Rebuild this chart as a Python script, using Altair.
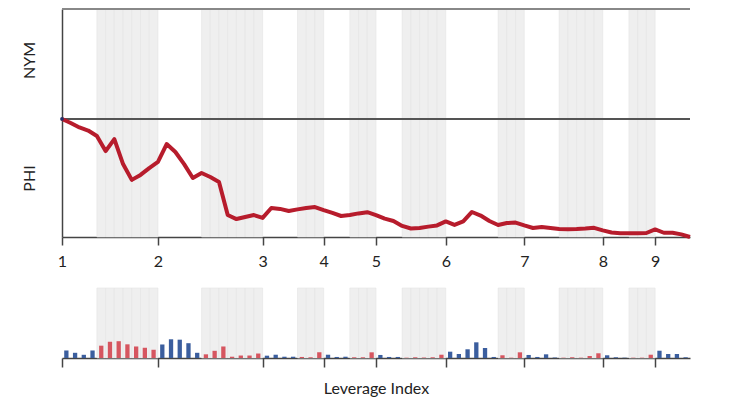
import altair as alt
import pandas as pd

# plays per half-inning (top = NYM batting, bottom = PHI batting)
top_plays = [4, 5, 4, 3, 3, 6, 4, 3, 4]
bottom_plays = [7, 7, 3, 3, 5, 3, 5, 3, 0]
inning_labels = ["1", "2", "3", "4", "5", "6", "7", "8", "9"]

# leverage index of each of the 72 plays
leverage = [
    0.94, 0.65, 0.40, 0.94, 1.54, 2.03, 2.10, 1.71, 1.44, 1.28, 1.03,
    1.69, 2.34, 2.29, 1.85, 0.65, 0.46, 0.90, 1.44, 0.16, 0.31, 0.31, 0.56,
    0.29, 0.41, 0.16, 0.16, 0.13, 0.09, 0.71,
    0.41, 0.13, 0.16, 0.09, 0.09, 0.71,
    0.38, 0.13, 0.13, 0.04, 0.09, 0.06, 0.09, 0.41,
    0.79, 0.50, 1.09, 1.96, 1.25, 0.13, 0.34, 0.04, 0.71,
    0.38, 0.13, 0.46, 0.06, 0.04, 0.09, 0.04, 0.25, 0.59,
    0.34, 0.09, 0.04, 0.04, 0.04, 0.41,
    0.91, 0.50, 0.50, 0.09,
]

# NYM win probability (%) at the start and after each play
nym_win = [
    50.0, 48.3, 46.4, 45.1, 42.8, 36.4, 41.5, 30.9, 24.2, 26.3, 29.2, 31.8,
    39.4, 36.0, 30.9, 25.0, 27.1, 25.4, 23.3, 9.3, 7.6, 8.5, 9.3, 8.1,
    12.3, 11.9, 11.0, 11.7, 12.3, 12.7, 11.4, 10.2, 8.9, 9.3, 10.0, 10.5,
    9.3, 7.8, 6.8, 4.7, 3.6, 3.8, 4.4, 4.9, 6.6, 5.1, 6.6, 10.6,
    9.1, 6.8, 5.1, 5.9, 6.1, 4.9, 3.8, 4.2, 3.8, 3.4, 3.3, 3.4,
    3.6, 3.9, 2.8, 1.9, 1.6, 1.6, 1.6, 1.7, 3.2, 1.8, 1.8, 1.1, 0.0,
]

rows = []
starts = []
p = 0
for inn, (t, b) in enumerate(zip(top_plays, bottom_plays)):
    starts.append(p)
    for _ in range(t):
        rows.append({"play": p, "half": "top"})
        p += 1
    for _ in range(b):
        rows.append({"play": p, "half": "bottom"})
        p += 1
n_plays = p
plays = pd.DataFrame(rows)
plays["start"] = plays["play"]
plays["end"] = plays["play"] + 1
plays["center"] = plays["play"] + 0.5
plays["li"] = leverage
shade = plays[plays["half"] == "bottom"]
wp = pd.DataFrame({"k": list(range(len(nym_win))), "wp": nym_win})

FONT = "Lato"
AX = "#444444"
xs = alt.Scale(domain=[0, n_plays], nice=False, zero=False, padding=0)
label_expr = "[" + ",".join("'%s'" % s for s in inning_labels) + "][indexof([" + \
    ",".join(str(s) for s in starts) + "], datum.value)]"

top_xaxis = alt.Axis(values=starts, labelExpr=label_expr, title=None, grid=False,
                     domainColor=AX, domainWidth=1.5, tickColor=AX, tickWidth=1.5,
                     tickSize=8, labelFontSize=16, labelFont=FONT, labelColor="#222222",
                     labelPadding=8, labelFlush=False, labelOverlap=False)
ys = alt.Scale(domain=[0, 96.6], nice=False, zero=False)
yaxis = alt.Axis(values=[25, 75], labelExpr="datum.value > 50 ? 'NYM' : 'PHI'",
                 labelAngle=270, ticks=False, grid=False, title=None,
                 domainColor=AX, domainWidth=1.5, labelFontSize=16, labelFont=FONT,
                 labelColor="#222222", labelPadding=25)

shade_top = alt.Chart(shade).mark_rect(color="#efefef", stroke="#e4e4e4", strokeWidth=0.6).encode(
    x=alt.X("start:Q", scale=xs, axis=top_xaxis), x2="end:Q")
border = alt.Chart(wp).mark_rule(color="#888888", strokeWidth=2).encode(y=alt.value(0))
mid = alt.Chart(wp).mark_rule(color="#555555", strokeWidth=1.2).encode(
    y=alt.datum(50, scale=ys, axis=yaxis))
line = alt.Chart(wp).mark_line(color="#b71c2c", strokeWidth=4, strokeJoin="round").encode(
    x=alt.X("k:Q", scale=xs, axis=top_xaxis),
    y=alt.Y("wp:Q", scale=ys, axis=yaxis))
start_pt = alt.Chart(wp.iloc[:1]).mark_point(filled=True, color="#23336b", size=14, opacity=1).encode(
    x=alt.X("k:Q", scale=xs, axis=top_xaxis), y=alt.Y("wp:Q", scale=ys, axis=yaxis))

top = alt.layer(shade_top, mid, border, line, start_pt).properties(width=628, height=228)

bottom_xaxis = alt.Axis(values=starts, labels=False, grid=False, title="Leverage Index",
                        domainColor=AX, domainWidth=1.5, tickColor=AX, tickWidth=1.5,
                        tickSize=9, titleFontSize=16, titleFont=FONT,
                        titleFontWeight="normal", titleColor="#222222", titlePadding=13)
shade_bot = alt.Chart(shade).mark_rect(color="#efefef", stroke="#e4e4e4", strokeWidth=0.6).encode(
    x=alt.X("start:Q", scale=xs, axis=bottom_xaxis), x2="end:Q")
bars = alt.Chart(plays).mark_bar(size=4.3).encode(
    x=alt.X("center:Q", scale=xs, axis=bottom_xaxis),
    y=alt.Y("li:Q", scale=alt.Scale(domain=[0, 8.75], nice=False), axis=None),
    color=alt.Color("half:N", scale=alt.Scale(domain=["top", "bottom"],
                                              range=["#3b5e9e", "#d65660"]), legend=None))
bottom = alt.layer(shade_bot, bars).properties(width=628, height=70)

chart = alt.vconcat(top, bottom, spacing=18).properties(
    padding={"left": 13, "top": 0, "right": 5, "bottom": 0}
).configure_view(stroke=None)

chart.save("out.html", embed_options={"renderer": "svg", "actions": False})
